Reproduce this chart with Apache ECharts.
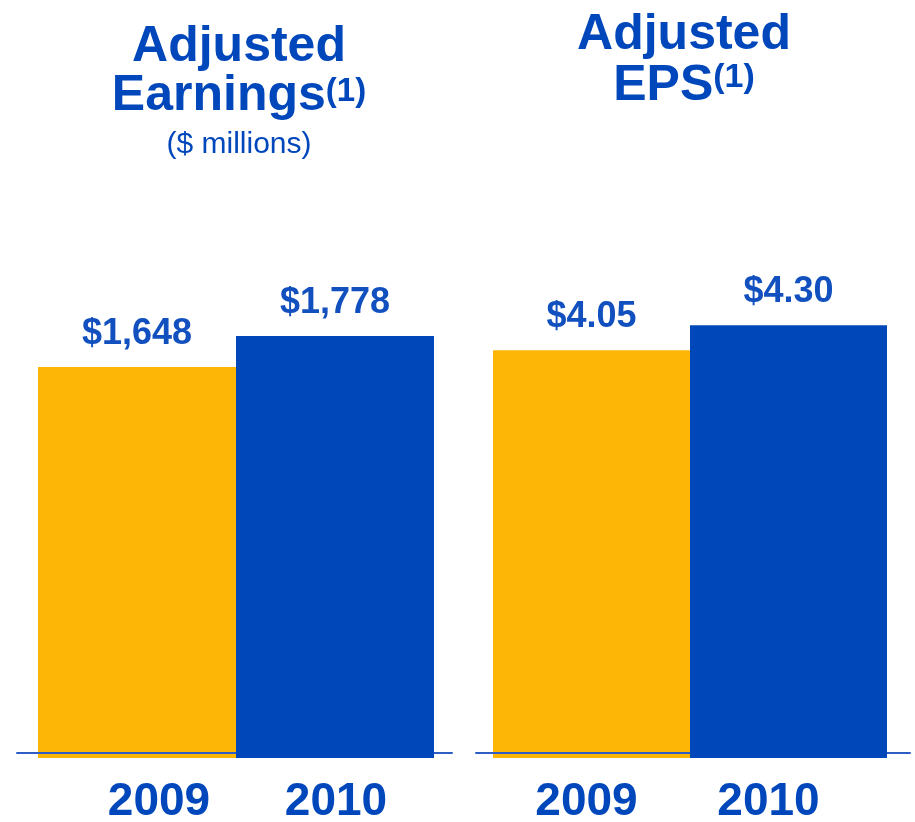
<!DOCTYPE html>
<html>
<head>
<meta charset="utf-8">
<script src="https://cdn.jsdelivr.net/npm/echarts@6/dist/echarts.min.js"></script>
<style>
  html, body { margin: 0; padding: 0; background: #ffffff; }
  #chart { width: 915px; height: 822px; }
</style>
</head>
<body>
<div id="chart"></div>
<script>
// ---- data ----
const years = ['2009', '2010'];
const earnings = [1648, 1778];      // Adjusted Earnings ($ millions)
const eps = [4.05, 4.30];           // Adjusted EPS ($)
const titleLeft = 'Adjusted\nEarnings{sup|(1)}';
const subtitleLeft = '($ millions)';
const titleRight = 'Adjusted\nEPS{sup|(1)}';

// ---- styles ----
const ORANGE = '#FDB606';
const BLUE = '#0047BA';
const TEXT_BLUE = '#0047BB';
const LINE_BLUE = '#2c5ec6';
const FONT = '"Liberation Sans", Arial, sans-serif';

function only(arr, i) { return arr.map((v, k) => (k === i ? v : null)); }

function yearLabel(shifts) {
  const rich = {};
  shifts.forEach((s, i) => {
    rich['y' + i] = {
      fontFamily: FONT, fontWeight: 'bold', fontSize: 46, color: TEXT_BLUE,
      padding: s >= 0 ? [0, 0, 0, 2 * s] : [0, -2 * s, 0, 0]
    };
  });
  return {
    show: true, margin: 21, interval: 0,
    formatter: (v, i) => '{y' + i + '|' + v + '}',
    rich: rich
  };
}

function valueLabel(fmt) {
  return {
    show: true, position: 'top', distance: 15,
    fontFamily: FONT, fontWeight: 'bold', fontSize: 36, color: '#1150BE',
    formatter: p => fmt(p.value)
  };
}

const fmtMoney = v => '$' + v.toLocaleString('en-US');
const fmtEps = v => '$' + v.toFixed(2);

const titleStyle = (lh, supSize, supPadTop) => ({
  fontFamily: FONT, fontWeight: 'bold', fontSize: 50, lineHeight: lh, color: TEXT_BLUE,
  rich: {
    sup: { fontFamily: FONT, fontWeight: 'bold', fontSize: supSize, lineHeight: supSize,
           color: TEXT_BLUE, verticalAlign: 'top', padding: [supPadTop, 0, 0, 0] }
  }
});

const gridBase = { containLabel: false, outerBoundsMode: 'none' };

const option = {
  backgroundColor: '#ffffff',
  animation: false,
  title: [
    { text: titleLeft, left: 239, top: 23, textAlign: 'center', padding: 0,
      textStyle: titleStyle(49, 33, 3) },
    { text: subtitleLeft, left: 239, top: 128, textAlign: 'center', padding: 0,
      textStyle: { fontFamily: FONT, fontWeight: 'normal', fontSize: 30, lineHeight: 34, color: TEXT_BLUE } },
    { text: titleRight, left: 684, top: 10, textAlign: 'center', padding: 0,
      textStyle: titleStyle(51, 34, 0) }
  ],
  grid: [
    Object.assign({ left: 38, width: 396, top: 300, bottom: 64 }, gridBase),   // left bars
    Object.assign({ left: 17, width: 435, top: 300, bottom: 69 }, gridBase),   // left baseline
    Object.assign({ left: 493, width: 394, top: 300, bottom: 64 }, gridBase),  // right bars
    Object.assign({ left: 476, width: 434, top: 300, bottom: 69 }, gridBase)   // right baseline
  ],
  xAxis: [
    { type: 'category', gridIndex: 0, data: years,
      axisLine: { show: false }, axisTick: { show: false },
      axisLabel: yearLabel([22, 1]) },
    { type: 'category', gridIndex: 1, data: years, z: 2,
      axisLine: { show: true, lineStyle: { color: LINE_BLUE, width: 2 } },
      axisTick: { show: false }, axisLabel: { show: false } },
    { type: 'category', gridIndex: 2, data: years,
      axisLine: { show: false }, axisTick: { show: false },
      axisLabel: yearLabel([-5, -20]) },
    { type: 'category', gridIndex: 3, data: years, z: 2,
      axisLine: { show: true, lineStyle: { color: LINE_BLUE, width: 2 } },
      axisTick: { show: false }, axisLabel: { show: false } }
  ],
  yAxis: [
    { type: 'value', gridIndex: 0, min: 0, max: 1930, show: false },
    { type: 'value', gridIndex: 1, min: 0, max: 1, show: false },
    { type: 'value', gridIndex: 2, min: 0, max: 4.55, show: false },
    { type: 'value', gridIndex: 3, min: 0, max: 1, show: false }
  ],
  series: [
    { type: 'bar', xAxisIndex: 0, yAxisIndex: 0, z: 1, barWidth: '100%', barGap: '-100%',
      data: only(earnings, 0), itemStyle: { color: ORANGE }, label: valueLabel(fmtMoney) },
    { type: 'bar', xAxisIndex: 0, yAxisIndex: 0, z: 3, barWidth: '100%', barGap: '-100%',
      data: only(earnings, 1), itemStyle: { color: BLUE }, label: valueLabel(fmtMoney) },
    { type: 'bar', xAxisIndex: 2, yAxisIndex: 2, z: 1, barWidth: '100%', barGap: '-100%',
      data: only(eps, 0), itemStyle: { color: ORANGE }, label: valueLabel(fmtEps) },
    { type: 'bar', xAxisIndex: 2, yAxisIndex: 2, z: 3, barWidth: '100%', barGap: '-100%',
      data: only(eps, 1), itemStyle: { color: BLUE }, label: valueLabel(fmtEps) },
    { type: 'line', xAxisIndex: 1, yAxisIndex: 1, data: [], silent: true },
    { type: 'line', xAxisIndex: 3, yAxisIndex: 3, data: [], silent: true }
  ]
};

const chart = echarts.init(document.getElementById('chart'), null, { renderer: 'canvas' });
chart.setOption(option);
</script>
</body>
</html>
